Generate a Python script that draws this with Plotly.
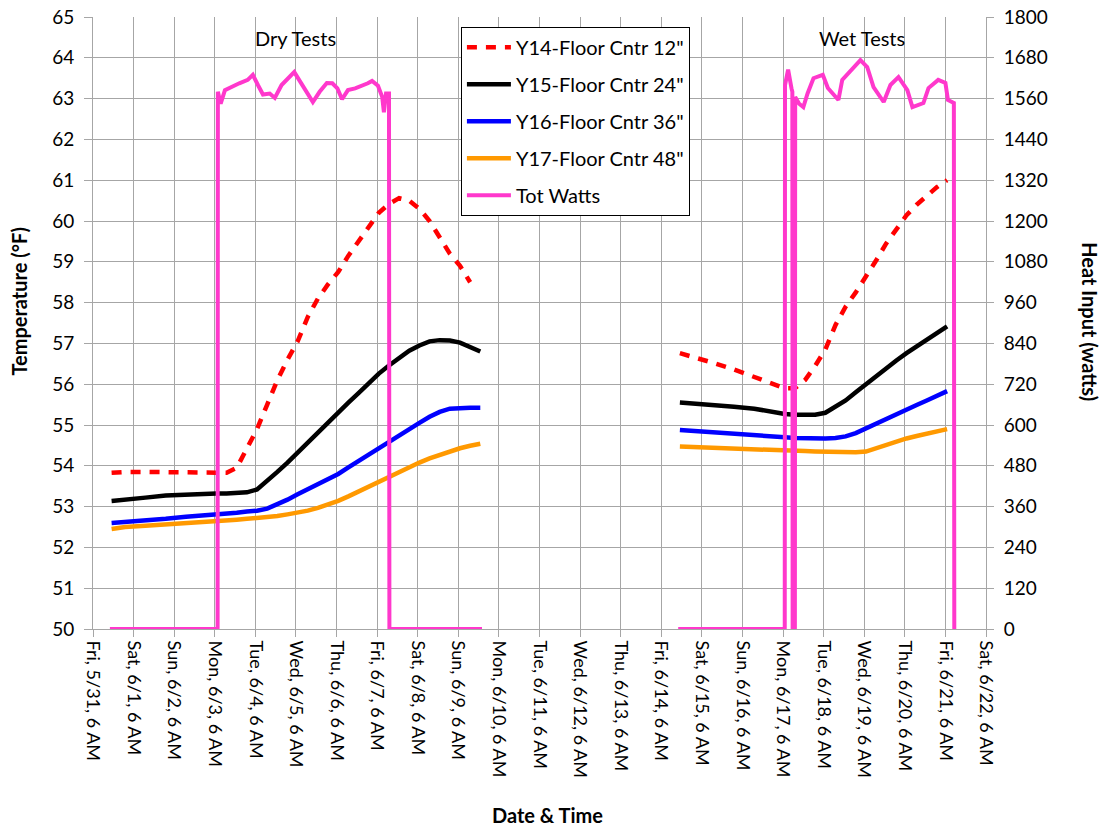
import plotly.graph_objects as go

# ---------------- data ----------------
x_ticks = ["2013-05-31 06:00", "2013-06-01 06:00", "2013-06-02 06:00", "2013-06-03 06:00",
           "2013-06-04 06:00", "2013-06-05 06:00", "2013-06-06 06:00", "2013-06-07 06:00",
           "2013-06-08 06:00", "2013-06-09 06:00", "2013-06-10 06:00", "2013-06-11 06:00",
           "2013-06-12 06:00", "2013-06-13 06:00", "2013-06-14 06:00", "2013-06-15 06:00",
           "2013-06-16 06:00", "2013-06-17 06:00", "2013-06-18 06:00", "2013-06-19 06:00",
           "2013-06-20 06:00", "2013-06-21 06:00", "2013-06-22 06:00"]
x_tick_labels = ["Fri, 5/31, 6 AM", "Sat, 6/1, 6 AM", "Sun, 6/2, 6 AM", "Mon, 6/3, 6 AM",
                 "Tue, 6/4, 6 AM", "Wed, 6/5, 6 AM", "Thu, 6/6, 6 AM", "Fri, 6/7, 6 AM",
                 "Sat, 6/8, 6 AM", "Sun, 6/9, 6 AM", "Mon, 6/10, 6 AM", "Tue, 6/11, 6 AM",
                 "Wed, 6/12, 6 AM", "Thu, 6/13, 6 AM", "Fri, 6/14, 6 AM", "Sat, 6/15, 6 AM",
                 "Sun, 6/16, 6 AM", "Mon, 6/17, 6 AM", "Tue, 6/18, 6 AM", "Wed, 6/19, 6 AM",
                 "Thu, 6/20, 6 AM", "Fri, 6/21, 6 AM", "Sat, 6/22, 6 AM"]

dry_times = ["2013-05-31 17:00", "2013-06-01 01:00", "2013-06-01 13:00", "2013-06-02 01:00",
             "2013-06-02 13:00", "2013-06-03 01:00", "2013-06-03 07:00", "2013-06-03 13:00",
             "2013-06-03 19:00", "2013-06-04 01:00", "2013-06-04 07:00", "2013-06-04 13:00",
             "2013-06-04 19:00", "2013-06-05 01:00", "2013-06-05 07:00", "2013-06-05 13:00",
             "2013-06-05 19:00", "2013-06-06 01:00", "2013-06-06 07:00", "2013-06-06 13:00",
             "2013-06-06 19:00", "2013-06-07 01:00", "2013-06-07 07:00", "2013-06-07 13:00",
             "2013-06-07 19:00", "2013-06-08 01:00", "2013-06-08 07:00", "2013-06-08 13:00",
             "2013-06-08 19:00", "2013-06-09 01:00", "2013-06-09 07:00", "2013-06-09 13:00",
             "2013-06-09 19:00"]
wet_times = ["2013-06-14 17:00", "2013-06-15 01:00", "2013-06-15 13:00", "2013-06-16 01:00",
             "2013-06-16 13:00", "2013-06-17 01:00", "2013-06-17 07:00", "2013-06-17 13:00",
             "2013-06-17 19:00", "2013-06-18 01:00", "2013-06-18 07:00", "2013-06-18 13:00",
             "2013-06-18 19:00", "2013-06-19 01:00", "2013-06-19 07:00", "2013-06-19 13:00",
             "2013-06-19 19:00", "2013-06-20 01:00", "2013-06-20 07:00", "2013-06-20 13:00",
             "2013-06-20 19:00", "2013-06-21 01:00", "2013-06-21 07:00"]

y14_dry = [53.83, 53.85, 53.85, 53.85, 53.85, 53.83, 53.83, 53.83, 53.95, 54.4, 54.9, 55.5,
           56.1, 56.6, 57.05, 57.65, 58.1, 58.45, 58.75, 59.15, 59.5, 59.85, 60.2, 60.42,
           60.56, 60.5, 60.3, 60.0, 59.6, 59.2, 58.9, 58.5, None]
y15_dry = [53.14, 53.18, 53.22, 53.27, 53.3, 53.31, 53.32, 53.32, 53.33, 53.35, 53.42, 53.62,
           53.85, 54.08, 54.33, 54.58, 54.83, 55.08, 55.32, 55.55, 55.78, 56.02, 56.26, 56.46,
           56.65, 56.82, 56.95, 57.05, 57.08, 57.07, 57.02, 56.92, 56.8]
y16_dry = [52.6, 52.62, 52.65, 52.7, 52.75, 52.78, 52.8, 52.82, 52.85, 52.88, 52.9, 52.95,
           53.05, 53.17, 53.3, 53.42, 53.54, 53.66, 53.8, 53.96, 54.12, 54.28, 54.43, 54.58,
           54.74, 54.9, 55.05, 55.2, 55.32, 55.4, 55.42, 55.42, 55.42]
y17_dry = [52.45, 52.5, 52.53, 52.56, 52.58, 52.62, 52.64, 52.66, 52.68, 52.7, 52.72, 52.74,
           52.77, 52.81, 52.85, 52.9, 52.97, 53.05, 53.14, 53.25, 53.37, 53.49, 53.61, 53.73,
           53.85, 53.98, 54.08, 54.18, 54.27, 54.36, 54.43, 54.49, 54.54]

y14_wet = [56.76, 56.67, 56.52, 56.36, 56.18, 56.0, 55.9, 55.9, 56.1, 56.45, 56.85, 57.45,
           57.9, 58.25, 58.63, 59.03, 59.45, 59.8, 60.14, 60.4, 60.62, 60.83, 61.0]
y15_wet = [55.55, 55.53, 55.5, 55.45, 55.4, 55.3, 55.27, 55.25, 55.25, 55.25, 55.3, 55.45,
           55.6, 55.8, 56.0, 56.2, 56.4, 56.58, 56.76, 56.93, 57.1, 57.26, 57.42]
y16_wet = [54.88, 54.86, 54.83, 54.8, 54.76, 54.72, 54.7, 54.68, 54.67, 54.67, 54.67, 54.68,
           54.72, 54.8, 54.92, 55.04, 55.15, 55.26, 55.38, 55.49, 55.6, 55.72, 55.83]
y17_wet = [54.47, 54.46, 54.45, 54.44, 54.42, 54.4, 54.38, 54.37, 54.36, 54.35, 54.34, 54.33,
           54.33, 54.33, 54.35, 54.43, 54.52, 54.6, 54.67, 54.73, 54.78, 54.84, 54.9]

watts_dry_times = ["2013-05-31 16:00", "2013-06-03 07:40", "2013-06-03 07:50", "2013-06-03 09:30",
                   "2013-06-03 12:00", "2013-06-03 16:00", "2013-06-03 20:30", "2013-06-04 01:30",
                   "2013-06-04 04:30", "2013-06-04 07:30", "2013-06-04 10:30", "2013-06-04 14:30",
                   "2013-06-04 17:30", "2013-06-04 21:30", "2013-06-05 02:30", "2013-06-05 05:00",
                   "2013-06-05 08:30", "2013-06-05 12:30", "2013-06-05 16:00", "2013-06-05 20:00",
                   "2013-06-06 00:15", "2013-06-06 03:30", "2013-06-06 06:30", "2013-06-06 09:15",
                   "2013-06-06 12:45", "2013-06-06 17:00", "2013-06-06 21:00", "2013-06-07 00:30",
                   "2013-06-07 03:00", "2013-06-07 06:30", "2013-06-07 09:00", "2013-06-07 10:00",
                   "2013-06-07 11:15", "2013-06-07 13:00", "2013-06-07 13:15", "2013-06-09 20:00"]
watts_dry = [0, 0, 1580, 1545, 1585, 1595, 1605, 1615, 1630, 1600, 1572, 1575,
             1562, 1600, 1628, 1638, 1610, 1575, 1550, 1580, 1606, 1605, 1590, 1558,
             1585, 1590, 1597, 1605, 1612, 1598, 1565, 1520, 1575, 1575, 0, 0]

watts_wet_times = ["2013-06-14 16:00", "2013-06-17 07:00", "2013-06-17 07:10", "2013-06-17 09:00",
                   "2013-06-17 11:00", "2013-06-17 11:30", "2013-06-17 11:40", "2013-06-17 13:00",
                   "2013-06-17 13:10", "2013-06-17 15:30", "2013-06-17 18:00", "2013-06-17 20:30",
                   "2013-06-18 00:00", "2013-06-18 05:30", "2013-06-18 08:30", "2013-06-18 14:45",
                   "2013-06-18 17:00", "2013-06-18 23:30", "2013-06-19 03:45", "2013-06-19 07:45",
                   "2013-06-19 11:30", "2013-06-19 17:30", "2013-06-19 21:30", "2013-06-20 02:15",
                   "2013-06-20 07:30", "2013-06-20 10:30", "2013-06-20 17:00", "2013-06-20 20:00",
                   "2013-06-21 01:45", "2013-06-21 06:00", "2013-06-21 07:30", "2013-06-21 11:00",
                   "2013-06-21 11:15"]
watts_wet = [0, 0, 1600, 1645, 1590, 1580, 0, 0,
             1565, 1545, 1535, 1575, 1620, 1630, 1591, 1556,
             1615, 1650, 1673, 1653, 1594, 1550, 1600, 1623,
             1585, 1535, 1547, 1591, 1615, 1606, 1556, 1547,
             0]

# ---------------- figure ----------------
FONT = "Lato"
GRID = "#A6A6A6"

fig = go.Figure()

series = [
    ("Y14-Floor Cntr 12\"", y14_dry, y14_wet, "#FF0000", "10px,9px"),
    ("Y15-Floor Cntr 24\"", y15_dry, y15_wet, "#000000", "solid"),
    ("Y16-Floor Cntr 36\"", y16_dry, y16_wet, "#0000FF", "solid"),
    ("Y17-Floor Cntr 48\"", y17_dry, y17_wet, "#FF9900", "solid"),
]
for i, (name, dry, wet, color, dash) in enumerate(series):
    fig.add_trace(go.Scatter(
        x=dry_times + [None] + wet_times,
        y=dry + [None] + wet,
        mode="lines", name=name, legendgroup=f"g{i}",
        line=dict(color=color, width=4.5, dash=dash),
        connectgaps=False,
    ))

fig.add_trace(go.Scatter(
    x=watts_dry_times + [None] + watts_wet_times,
    y=watts_dry + [None] + watts_wet,
    mode="lines", name="Tot Watts", legendgroup="g4",
    line=dict(color="#FF38CC", width=4),
    yaxis="y2", connectgaps=False,
))

fig.update_layout(
    width=1104, height=828,
    margin=dict(l=93, r=118, t=17, b=199, autoexpand=False),
    paper_bgcolor="white", plot_bgcolor="white",
    font=dict(family=FONT, size=18, color="black"),
    showlegend=True,
    legend=dict(
        x=0.412, y=0.984, xanchor="left", yanchor="top",
        bgcolor="white", bordercolor="black", borderwidth=1,
        font=dict(family=FONT, size=20, color="black"),
        traceorder="grouped", tracegroupgap=8,
        itemwidth=44,
    ),
    xaxis=dict(
        type="date", range=["2013-05-31 06:00", "2013-06-22 06:00"],
        tickvals=x_ticks, ticktext=x_tick_labels, tickangle=90,
        tickfont=dict(family=FONT, size=18, color="black"),
        showgrid=True, gridcolor=GRID, gridwidth=1,
        showline=True, linecolor=GRID, linewidth=1,
        ticks="outside", ticklen=7, tickcolor=GRID,
        zeroline=False, automargin=False, ticklabeloverflow="allow",
    ),
    yaxis=dict(
        range=[50, 65], tick0=50, dtick=1,
        tickfont=dict(family=FONT, size=19, color="black"),
        showgrid=True, gridcolor=GRID, gridwidth=1,
        showline=True, linecolor=GRID, linewidth=1,
        ticks="outside", ticklen=8, tickcolor=GRID,
        ticklabelstandoff=6, ticklabeloverflow="allow",
        zeroline=False, automargin=False,
    ),
    yaxis2=dict(
        overlaying="y", side="right",
        range=[0, 1800], tick0=0, dtick=120,
        tickfont=dict(family=FONT, size=19, color="black"),
        showgrid=False,
        showline=True, linecolor=GRID, linewidth=1,
        ticks="outside", ticklen=7, tickcolor=GRID,
        ticklabelstandoff=6, ticklabeloverflow="allow",
        zeroline=False, automargin=False,
    ),
    annotations=[
        dict(text="Dry Tests", x=0.227, y=0.966, xref="paper", yref="paper",
             xanchor="center", yanchor="middle",
             showarrow=False, font=dict(family=FONT, size=20, color="black")),
        dict(text="Wet Tests", x=0.861, y=0.966, xref="paper", yref="paper",
             xanchor="center", yanchor="middle",
             showarrow=False, font=dict(family=FONT, size=20, color="black")),
        dict(text="<b>Temperature (°F)</b>", x=-0.0829, y=0.535, xref="paper", yref="paper",
             xanchor="center", yanchor="middle",
             showarrow=False, textangle=-90, font=dict(family=FONT, size=20, color="black")),
        dict(text="<b>Heat Input (watts)</b>", x=1.1165, y=0.503, xref="paper", yref="paper",
             xanchor="center", yanchor="middle",
             showarrow=False, textangle=90, font=dict(family=FONT, size=20, color="black")),
        dict(text="<b>Date &amp; Time</b>", x=0.5095, y=-0.304, xref="paper", yref="paper",
             xanchor="center", yanchor="middle",
             showarrow=False, font=dict(family=FONT, size=20, color="black")),
    ],
)

fig.write_html("out.html", config={"displayModeBar": False},
               post_script="document.body.style.margin='0px';")
